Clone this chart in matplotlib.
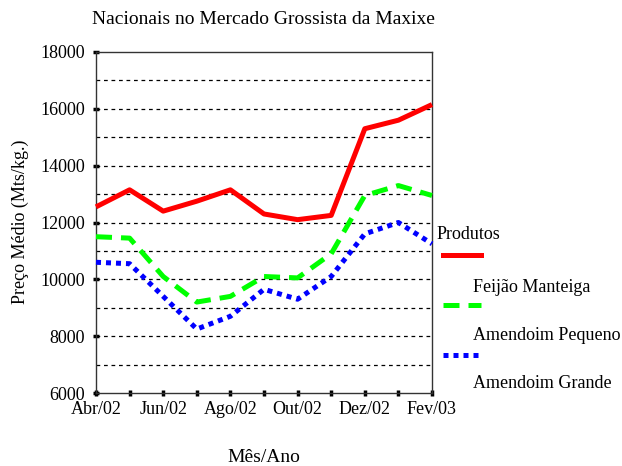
import matplotlib
matplotlib.use("Agg")
import matplotlib.pyplot as plt
from matplotlib.lines import Line2D

plt.rcParams['font.family'] = ['Liberation Serif', 'DejaVu Serif']

months = ["Abr/02", "Mai/02", "Jun/02", "Jul/02", "Ago/02", "Set/02",
          "Out/02", "Nov/02", "Dez/02", "Jan/03", "Fev/03"]
feijao = [12550, 13150, 12400, 12750, 13150, 12300, 12100, 12250, 15300, 15600, 16150]
amend_peq = [11500, 11450, 10100, 9200, 9400, 10100, 10050, 10900, 12950, 13300, 12950]
amend_gra = [10600, 10550, 9400, 8250, 8700, 9650, 9300, 10100, 11600, 12000, 11250]
series_names = ["Feijão Manteiga", "Amendoim Pequeno", "Amendoim Grande"]
y_ticks = [6000, 8000, 10000, 12000, 14000, 16000, 18000]

fig = plt.figure(figsize=(6.22, 4.66), dpi=100)
ax = fig.add_axes([96/622, 1-393/466, 336/622, 341/466])

x = list(range(len(months)))
ax.plot(x, feijao, color='#ff0000', lw=3.6, solid_capstyle='butt', clip_on=False, zorder=3)
ax.plot(x, amend_peq, color='#00ff00', lw=3.6, dashes=(3.2, 1.8), clip_on=False, zorder=3)
ax.plot(x, amend_gra, color='#0000ff', lw=3.6, dashes=(1.0, 1.0), clip_on=False, zorder=3)

ax.set_xlim(0, len(months)-1)
ax.set_ylim(6000, 18000)
ax.set_xticks(x)
ax.set_xticklabels([m if i % 2 == 0 else "" for i, m in enumerate(months)], fontsize=13)
ax.set_yticks(y_ticks)
ax.set_yticklabels([str(v) for v in y_ticks], fontsize=13)
for v in range(7000, 18000, 1000):
    ax.axhline(v, color='black', lw=0.9, dashes=(3, 3), zorder=1)
ax.tick_params(direction='inout', length=4, width=2.5, color='black')
ax.tick_params(axis='x', pad=4)
ax.tick_params(axis='y', pad=6)
for s in ax.spines.values():
    s.set_linewidth(1.0)
    s.set_color('#333333')

fig.text(263/622, 1-20/466, "Nacionais no Mercado Grossista da Maxixe", ha='center', va='center', fontsize=14)
fig.text(20/622, 1-222/466, "Preço Médio (Mts/kg.)", rotation=90, ha='center', va='center', fontsize=13)
fig.text(264/622, 1-458/466, "Mês/Ano", ha='center', va='center', fontsize=14)

# legend
fig.text(437/622, 1-234/466, "Produtos", ha='left', va='center', fontsize=13)
styles = [dict(color='#ff0000'), dict(color='#00ff00', dashes=(3.2, 1.8)), dict(color='#0000ff', dashes=(1.0, 1.0))]
sample_y = [255, 305, 355]
label_y = [287, 336, 384]
for name, st, sy, ly in zip(series_names, styles, sample_y, label_y):
    fig.add_artist(Line2D([443/622, 481/622], [1-sy/466, 1-sy/466], lw=3.6, transform=fig.transFigure, **st))
    fig.text(473/622, 1-ly/466, name, ha='left', va='center', fontsize=13)

fig.savefig("out.png", dpi=100)
